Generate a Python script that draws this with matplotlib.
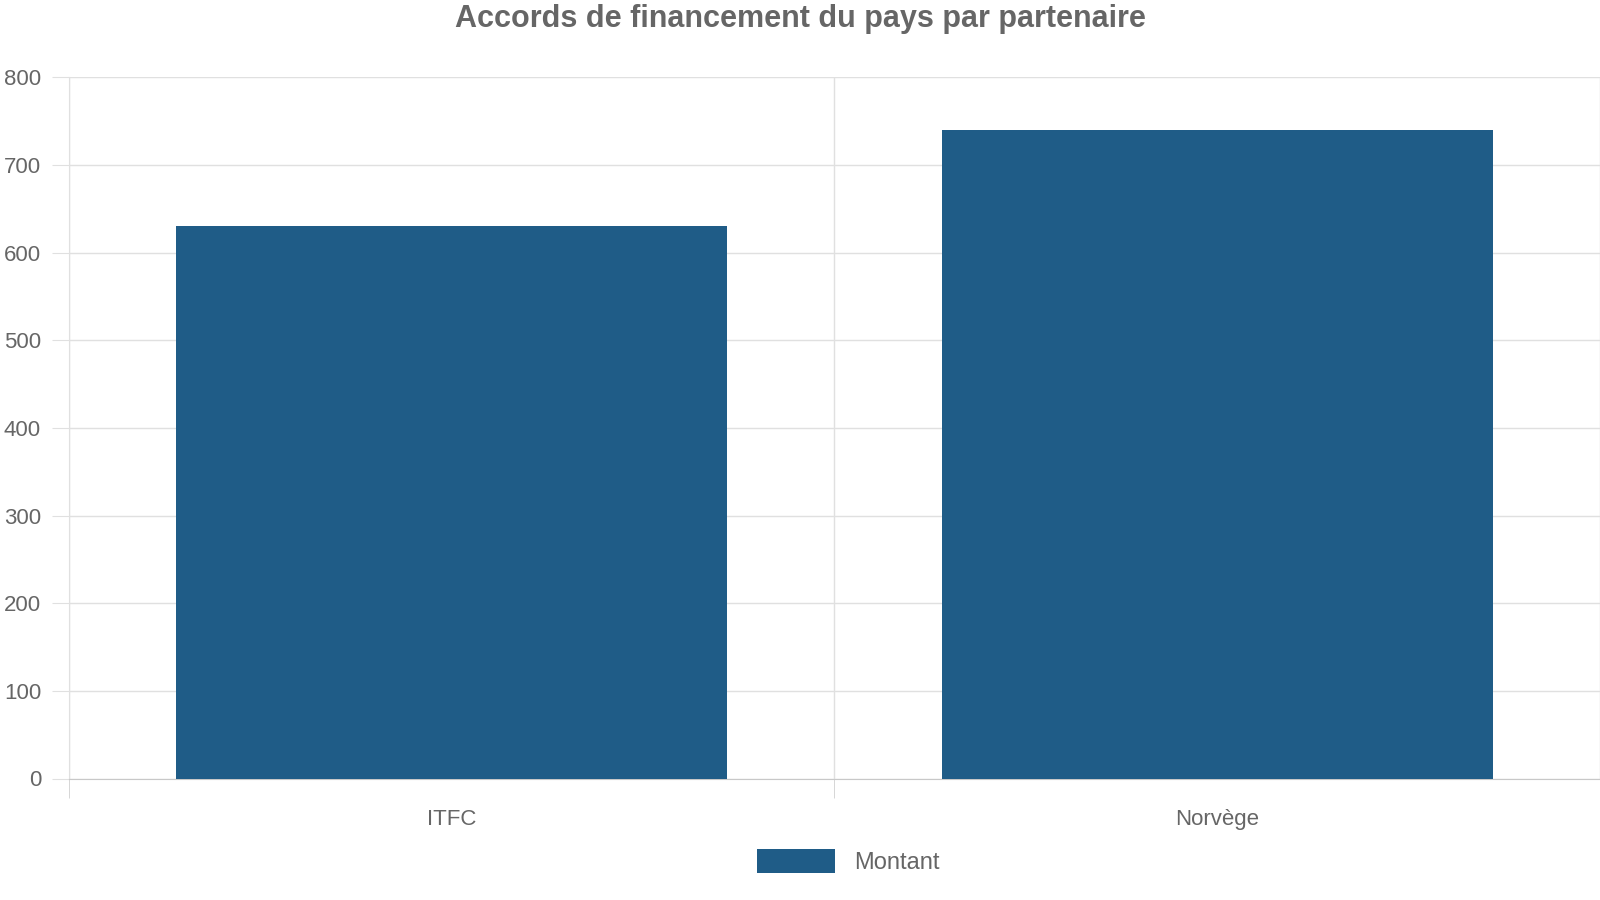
import matplotlib
matplotlib.use("Agg")
import matplotlib.pyplot as plt

categories = ["ITFC", "Norvège"]
values = [630, 740]
series_name = "Montant"

plt.rcParams['font.family'] = ['Liberation Sans', 'DejaVu Sans']
fig = plt.figure(figsize=(16, 9), dpi=100)
ax = fig.add_axes([0.043, 0.135, 0.957, 0.779])
x = list(range(len(categories)))
ax.bar(x, values, width=0.72, color="#1f5c87", label=series_name, zorder=3)
ax.set_xlim(-0.5, len(categories) - 0.5)
ax.set_ylim(0, 800)
ax.set_yticks(range(0, 801, 100))
ax.set_xticks(x)
ax.set_xticklabels(categories)
ax.set_xticks([-0.5, 0.5, 1.5], minor=True)
ax.grid(axis='y', color="#e0e0e0", linewidth=1, zorder=0)
ax.grid(axis='x', which='minor', color="#e0e0e0", linewidth=1, zorder=0)
ax.tick_params(axis='x', which='major', length=0, pad=22, labelsize=16, labelcolor="#666666")
ax.tick_params(axis='x', which='minor', length=14, color="#d0d0d0")
ax.tick_params(axis='y', length=12, color="#e0e0e0", labelsize=16, labelcolor="#666666", pad=8)
for s in ['top', 'right']:
    ax.spines[s].set_visible(False)
ax.spines['left'].set_color("#e0e0e0")
ax.spines['bottom'].set_color("#c8c8c8")
fig.suptitle("Accords de financement du pays par partenaire", y=0.995, va='top',
             fontsize=22, fontweight='bold', color="#666666")
fig.legend(loc='lower center', bbox_to_anchor=(0.53, 0.005), frameon=False,
           fontsize=17, labelcolor="#666666", handlelength=3.3, handleheight=1.2)
fig.savefig("out.png")
